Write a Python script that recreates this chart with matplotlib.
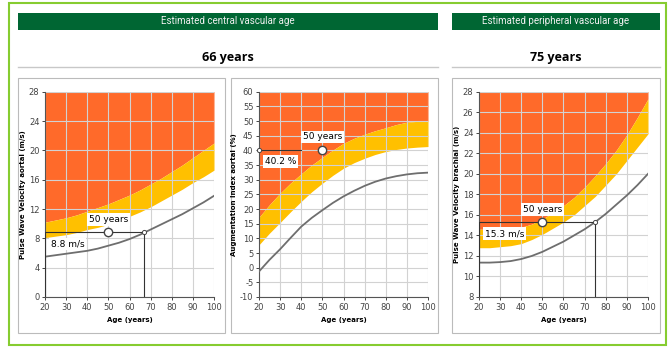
import matplotlib.pyplot as plt
from matplotlib.patches import Rectangle
from matplotlib.lines import Line2D

plt.rcParams['axes.unicode_minus'] = False

W, H = 671, 347

ages = list(range(20, 101, 5))
real_age = 50

# PWV aortal (m/s)
pwv_ao_upper = [10.2, 10.5, 10.8, 11.2, 11.7, 12.2, 12.7, 13.3, 13.9, 14.6, 15.4, 16.2,
                17.1, 18.0, 19.0, 20.0, 21.0]
pwv_ao_lower = [8.1, 8.3, 8.5, 8.8, 9.2, 9.5, 9.9, 10.4, 11.0, 11.6, 12.3, 13.1,
                13.9, 14.7, 15.6, 16.4, 17.3]
pwv_ao_mean = [5.5, 5.7, 5.9, 6.1, 6.3, 6.6, 7.0, 7.4, 7.9, 8.5, 9.2, 9.9,
               10.6, 11.3, 12.1, 12.9, 13.8]
pwv_ao_value = 8.8
pwv_ao_age = 67

# Augmentation index aortal (%)
aix_upper = [17.2, 21.5, 25.4, 28.9, 32.0, 35.0, 37.6, 40.1, 42.4, 44.1, 45.5, 46.7,
             47.7, 48.8, 49.6, 49.9, 50.0]
aix_lower = [7.8, 11.8, 15.4, 19.1, 22.6, 25.9, 28.8, 31.5, 33.9, 35.8, 37.3, 38.6,
             39.6, 40.3, 40.8, 41.1, 41.3]
aix_mean = [-1.3, 2.7, 6.3, 10.2, 14.0, 17.0, 19.6, 22.1, 24.3, 26.2, 27.9, 29.3,
            30.4, 31.2, 31.8, 32.2, 32.4]
aix_value = 40.2
aix_age = 40

# PWV brachial (m/s)
pwv_br_upper = [14.6, 14.6, 14.6, 14.7, 14.8, 15.1, 15.6, 16.2, 16.9, 17.7, 18.7, 19.8,
                21.0, 22.3, 23.8, 25.5, 27.3]
pwv_br_lower = [12.8, 12.8, 12.9, 13.0, 13.2, 13.6, 14.1, 14.7, 15.3, 16.0, 16.9, 17.8,
                18.9, 20.0, 21.3, 22.6, 23.9]
pwv_br_mean = [11.35, 11.35, 11.4, 11.5, 11.7, 12.0, 12.4, 12.9, 13.4, 14.0, 14.6, 15.3,
               16.1, 17.0, 17.9, 18.9, 20.0]
pwv_br_value = 15.3
pwv_br_age = 75

ORANGE = '#FF6A2A'
YELLOW = '#FFC000'
GREEN = '#006633'
BORDER = '#86CC30'

fig = plt.figure(figsize=(W / 100, H / 100), dpi=100)


def rect(x0, y0, x1, y1, **kw):
    fig.patches.append(Rectangle((x0 / W, 1 - y1 / H), (x1 - x0) / W, (y1 - y0) / H,
                                 transform=fig.transFigure, zorder=-1, **kw))


def hline(x0, x1, y, **kw):
    fig.lines.append(Line2D([x0 / W, x1 / W], [1 - y / H, 1 - y / H],
                            transform=fig.transFigure, zorder=-1, **kw))


# frame, headers, panels
rect(9, 3, 666, 345, facecolor='none', edgecolor=BORDER, lw=1.5)
rect(18, 13, 438, 30, facecolor=GREEN, edgecolor='none')
rect(452, 13, 660, 30, facecolor=GREEN, edgecolor='none')
fig.text(228 / W, 1 - 21.5 / H, 'Estimated central vascular age', color='#F0F0F0',
         fontsize=7, family='Roboto', ha='center', va='center')
fig.text(556 / W, 1 - 21.5 / H, 'Estimated peripheral vascular age', color='#F0F0F0',
         fontsize=7, family='Roboto', ha='center', va='center')
fig.text(228 / W, 1 - 57 / H, '66 years', fontsize=9, weight='bold',
         family='Open Sans', ha='center', va='center')
fig.text(556 / W, 1 - 57 / H, '75 years', fontsize=9, weight='bold',
         family='Open Sans', ha='center', va='center')
hline(18, 438, 67, color='#C8C8C8', lw=1)
hline(452, 660, 67, color='#C8C8C8', lw=1)
rect(18, 78, 225, 333, facecolor='none', edgecolor='#BBBBBB', lw=0.8)
rect(231, 78, 438, 333, facecolor='none', edgecolor='#BBBBBB', lw=0.8)
rect(452, 78, 660, 333, facecolor='none', edgecolor='#BBBBBB', lw=0.8)


def chart(left, upper, lower, mean, ylim, ystep, ylabel, value, age, vlabel):
    ax = fig.add_axes([left / W, 1 - 297 / H, 169 / W, 205.3 / H])
    ymin, ymax = ylim
    ax.fill_between(ages, upper, ymax, color=ORANGE, lw=0, zorder=0.2)
    ax.fill_between(ages, lower, upper, color=YELLOW, lw=0, zorder=0.2)
    ax.plot(ages, mean, color='#6E6E6E', lw=1.3, zorder=3)

    # measured value and vascular age
    if age > 40:
        ax.plot([20, 20, age, age], [ymin, value, value, ymin],
                color='#333333', lw=0.8, zorder=4)
        ax.plot([age], [value], 'o', ms=3, mfc='white', mec='#444444', mew=0.7, zorder=5)
    else:
        ax.plot([20, age], [value, value], color='#333333', lw=0.8, zorder=4)
        ax.plot([20], [value], 'o', ms=3, mfc='white', mec='#444444', mew=0.7,
                zorder=5, clip_on=False)
    ax.plot([real_age], [value], 'o', ms=6, mfc='white', mec='#444444',
            mew=1.0, zorder=5)
    ax.annotate('50 years', (real_age, value), xytext=(0, 6), textcoords='offset points',
                ha='center', va='bottom', fontsize=6.5, zorder=6,
                bbox=dict(boxstyle='square,pad=0.2', fc='white', ec='none'))
    ax.annotate(vlabel, (20, value), xytext=(4, -5), textcoords='offset points',
                ha='left', va='top', fontsize=6.5, zorder=6,
                bbox=dict(boxstyle='square,pad=0.2', fc='white', ec='none'))

    ax.set_xlim(20, 100)
    ax.set_ylim(ymin, ymax)
    ax.set_xticks(range(20, 101, 10))
    ax.set_yticks(range(ymin, ymax + 1, ystep))
    ax.set_axisbelow(True)
    ax.grid(True, color='#D2D2D2', lw=0.8)
    for s in ('top', 'right'):
        ax.spines[s].set_visible(False)
    for s in ('left', 'bottom'):
        ax.spines[s].set_color('#555555')
        ax.spines[s].set_linewidth(0.8)
    ax.tick_params(labelsize=6, colors='#444444', length=2.5, width=0.7, pad=1.5)
    ax.set_xlabel('Age (years)', fontsize=5, weight='bold', labelpad=4)
    ax.set_ylabel(ylabel, fontsize=5, weight='bold', labelpad=2)
    return ax


chart(45, pwv_ao_upper, pwv_ao_lower, pwv_ao_mean, (0, 28), 4,
      'Pulse Wave Velocity aortal (m/s)', pwv_ao_value, pwv_ao_age, '8.8 m/s')
chart(259, aix_upper, aix_lower, aix_mean, (-10, 60), 5,
      'Augmentation Index aortal (%)', aix_value, aix_age, '40.2 %')
chart(479, pwv_br_upper, pwv_br_lower, pwv_br_mean, (8, 28), 2,
      'Pulse Wave Velocity brachial (m/s)', pwv_br_value, pwv_br_age, '15.3 m/s')

fig.savefig('out.png', dpi=100)
